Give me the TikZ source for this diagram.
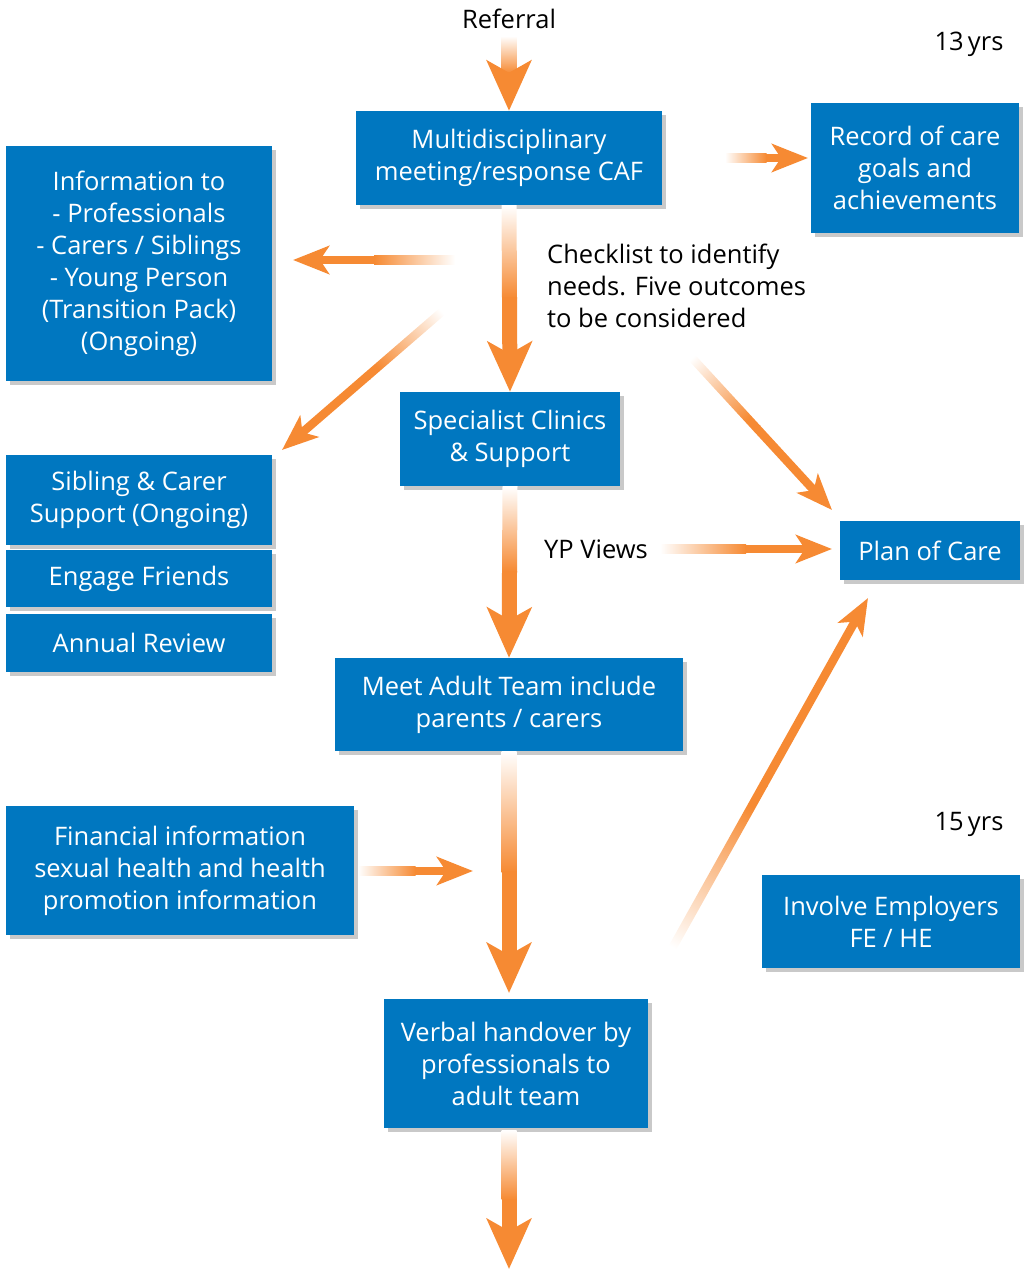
\documentclass[tikz,border=0pt]{standalone}
\usepackage{fontspec}
\setmainfont{Open Sans}
\usetikzlibrary{arrows.meta,calc,shadows}
\definecolor{boxblue}{RGB}{0,119,192}
\definecolor{arroworange}{RGB}{246,138,51}
\tikzset{
  bluebox/.style={fill=boxblue, text=white, align=center, inner sep=0pt,
    drop shadow={shadow xshift=4pt, shadow yshift=-4pt, opacity=0.3, fill=black!70}},
  plaintext/.style={text=black, align=left, inner sep=0pt},
  bigtip/.style={line width=15pt, draw=arroworange, -{Stealth[length=50pt,width=44pt,inset=12pt]}},
  smalltip/.style={line width=8.5pt, draw=arroworange, -{Stealth[length=36pt,width=28pt,inset=9pt]}},
}
% arrow whose first half fades in from white
\newcommand\fadearrow[4][bigtip]{%
  \coordinate (fadefrom) at (#3);
  \coordinate (fadeto) at (#4);
  \pgfmathanglebetweenpoints{\pgfpointanchor{fadefrom}{center}}{\pgfpointanchor{fadeto}{center}}%
  \pgfmathsetmacro\fadeangle{\pgfmathresult+90}%
  \coordinate (fademid) at ($(fadefrom)!0.5!(fadeto)$);
  \shade[top color=white, bottom color=arroworange, shading angle=\fadeangle]
    ($(fadefrom)!#2!90:(fadeto)$) -- ($(fadefrom)!#2!-90:(fadeto)$)
    -- ($(fademid)!#2!90:(fadefrom)$) -- ($(fademid)!#2!-90:(fadefrom)$) -- cycle;
  \draw[#1] ($(fademid)!1pt!(fadefrom)$) -- (fadeto);
}
\begin{document}
\begin{tikzpicture}[x=1pt, y=-1pt, font=\fontsize{25.5}{32}\selectfont]
  \useasboundingbox (0,0) rectangle (1028,1269);

  % Texts
  \node[plaintext] (referral) at (509,19) {Referral};
  \node[plaintext] (yrsA) at (969,44) {13\,yrs};
  \node[plaintext] (yrsB) at (969,824) {15\,yrs};
  \node[plaintext, anchor=west] (checklist) at (547,286) {Checklist to identify\\needs. Five outcomes\\to be considered};
  \node[plaintext] (ypviews) at (596,549) {YP Views};

  % Boxes
  \node[bluebox, minimum width=306pt, minimum height=94pt] (multi) at (509,158) {Multidisciplinary\\meeting/response CAF};
  \node[bluebox, minimum width=208pt, minimum height=130pt] (record) at (915,168) {Record of care\\goals and\\achievements};
  \node[bluebox, minimum width=266pt, minimum height=235pt] (info) at (139,263.5) {Information to\\- Professionals\\- Carers / Siblings\\- Young Person\\(Transition Pack)\\(Ongoing)};
  \node[bluebox, minimum width=220pt, minimum height=94pt] (special) at (510,439) {Specialist Clinics\\\& Support};
  \node[bluebox, minimum width=180pt, minimum height=59pt] (plan) at (930,550.5) {Plan of Care};
  \node[bluebox, minimum width=266pt, minimum height=90pt] (sibling) at (139,500) {Sibling \& Carer\\Support (Ongoing)};
  \node[bluebox, minimum width=266pt, minimum height=57pt] (friends) at (139,578.5) {Engage Friends};
  \node[bluebox, minimum width=266pt, minimum height=58pt] (review) at (139,643) {Annual Review};
  \node[bluebox, minimum width=348pt, minimum height=93pt] (meet) at (509,704.5) {Meet Adult Team include\\parents / carers};
  \node[bluebox, minimum width=348pt, minimum height=129pt] (finance) at (180,870.5) {Financial information\\sexual health and health\\promotion information};
  \node[bluebox, minimum width=258pt, minimum height=93pt] (employers) at (891,921.5) {Involve Employers\\FE / HE};
  \node[bluebox, minimum width=264pt, minimum height=129pt] (verbal) at (516,1063.5) {Verbal handover by\\professionals to\\adult team};

  % Free arrow ends
  \coordinate (refOut) at (509,36);
  \coordinate (recOut) at (725,158);
  \coordinate (recIn) at (808,158);
  \coordinate (infoOut) at (455,260);
  \coordinate (infoIn) at (293,260);
  \coordinate (sibOut) at (452,303);
  \coordinate (sibIn) at (282,450);
  \coordinate (checkOut) at (683,348);
  \coordinate (planInA) at (832,510);
  \coordinate (ypOut) at (660,549);
  \coordinate (planInB) at (832,549);
  \coordinate (verbalIn) at (509,993);
  \coordinate (finOut) at (358,871);
  \coordinate (finIn) at (473,871);
  \coordinate (empOut) at (660,970);
  \coordinate (planInC) at (868,598);
  \coordinate (verbalOut) at (509,1130);
  \coordinate (pageEnd) at (509,1269);

  % Arrows
  \fadearrow{7.5pt}{refOut}{multi.north}
  \fadearrow[smalltip]{4.25pt}{recOut}{recIn}
  \fadearrow[smalltip]{4.25pt}{infoOut}{infoIn}
  \fadearrow{7.5pt}{multi.south}{special.north}
  \fadearrow[smalltip]{4.25pt}{sibOut}{sibIn}
  \fadearrow[smalltip]{4.25pt}{checkOut}{planInA}
  \fadearrow[smalltip]{4.25pt}{ypOut}{planInB}
  \fadearrow{7.5pt}{special.south}{meet.north}
  \fadearrow{7.5pt}{meet.south}{verbalIn}
  \fadearrow[smalltip]{4.25pt}{finOut}{finIn}
  \fadearrow[smalltip]{4.25pt}{empOut}{planInC}
  \fadearrow{7.5pt}{verbalOut}{pageEnd}
\end{tikzpicture}
\end{document}
